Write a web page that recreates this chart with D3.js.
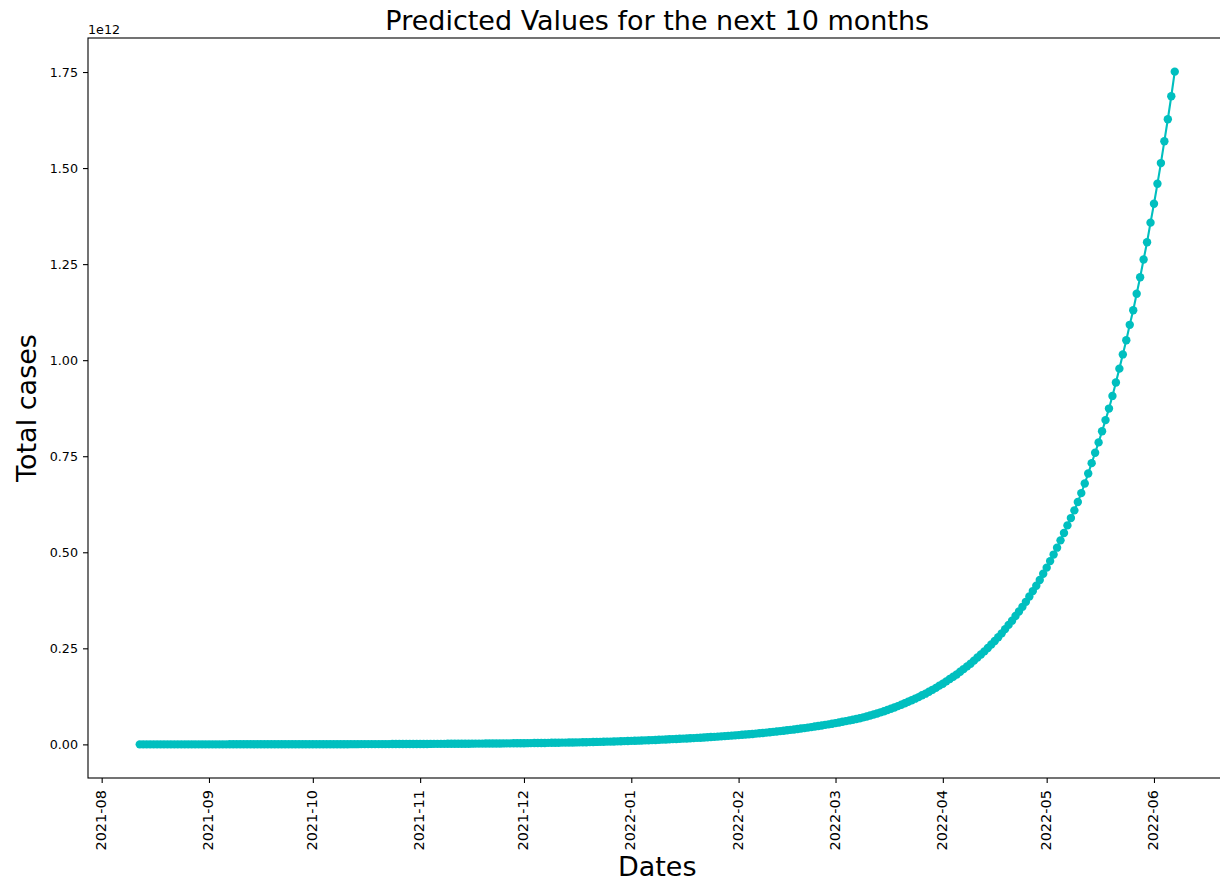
<!DOCTYPE html>
<html>
<head>
<meta charset="utf-8">
<script src="https://cdn.jsdelivr.net/npm/d3@7"></script>
<style>
  html, body { margin: 0; padding: 0; background: #fff; }
  svg { display: block; font-family: "DejaVu Sans", sans-serif; }
</style>
</head>
<body>
<svg id="chart" width="1220" height="880"></svg>
<script>
// ---- data (values in billions of cases), one point per day ----
const startDate = "2021-08-12";
const predictedBillions = [
  0.05,0.06,0.06,0.06,0.07,0.07,0.07,0.08,0.08,0.08,
  0.09,0.09,0.09,0.10,0.10,0.11,0.11,0.11,0.12,0.12,
  0.13,0.13,0.14,0.14,0.15,0.15,0.16,0.17,0.17,0.18,
  0.18,0.19,0.20,0.21,0.21,0.22,0.23,0.24,0.24,0.25,
  0.26,0.27,0.28,0.29,0.30,0.31,0.32,0.33,0.35,0.36,
  0.37,0.38,0.40,0.41,0.43,0.44,0.46,0.47,0.49,0.51,
  0.53,0.55,0.57,0.59,0.61,0.63,0.65,0.67,0.70,0.72,
  0.75,0.78,0.80,0.83,0.86,0.89,0.92,0.96,0.99,1.03,
  1.06,1.10,1.14,1.18,1.22,1.27,1.31,1.36,1.41,1.46,
  1.51,1.56,1.61,1.67,1.73,1.79,1.85,1.91,1.98,2.05,
  2.12,2.19,2.27,2.35,2.43,2.51,2.60,2.69,2.78,2.88,
  2.98,3.08,3.19,3.30,3.42,3.54,3.66,3.79,3.92,4.06,
  4.2,4.3,4.5,4.6,4.8,5.0,5.1,5.3,5.5,5.7,
  5.9,6.1,6.4,6.6,6.8,7.1,7.3,7.6,7.9,8.2,
  8.5,8.8,9.1,9.4,9.7,10.1,10.4,10.8,11.2,11.6,
  12.0,12.4,12.9,13.3,13.8,14.2,14.6,15.0,15.5,16.0,
  16.4,16.9,17.4,18.0,18.5,19.1,19.6,20.2,20.8,21.5,
  22.1,22.8,23.5,24.2,24.9,25.6,26.4,27.2,28.0,28.9,
  29.7,30.6,31.6,32.5,33.5,34.5,35.5,36.6,37.7,38.8,
  40.0,41.2,42.4,43.7,45.0,46.4,47.8,49.2,50.7,52.2,
  53.8,55.4,57.1,58.8,60.6,62.4,64.3,66.2,68.2,70.3,
  72.4,75.0,77.7,80.5,83.4,86.4,89.5,92.7,96.0,99.5,
  103,107,111,115,119,123,128,132,137,142,
  147,153,158,164,170,176,182,189,196,203,
  210,218,226,234,242,251,260,269,279,289,
  300,311,322,334,346,358,371,385,399,413,
  428,444,460,477,494,512,531,550,570,589,
  609,631,654,679,705,732,759,786,815,844,
  874,907,942,978,1015,1052,1092,1130,1173,1216,
  1262,1307,1358,1407,1459,1513,1570,1627,1687,1751
];
const yTickValues = [0, 0.25, 0.5, 0.75, 1.0, 1.25, 1.5, 1.75]; // in units of 1e12
const xTickMonths = ["2021-08","2021-09","2021-10","2021-11","2021-12","2022-01",
                     "2022-02","2022-03","2022-04","2022-05","2022-06"];
const titleText = "Predicted Values for the next 10 months";
const xLabel = "Dates";
const yLabel = "Total cases";
const offsetText = "1e12";

// ---- layout ----
const svg = d3.select("#chart");
const plotLeft = 88, plotTop = 38, plotBottom = 778, plotRight = 1226.5;
const color = "#00bfbf";

const parse = d3.timeParse("%Y-%m-%d");
const start = parse(startDate);
const data = predictedBillions.map((v, i) => ({ date: d3.timeDay.offset(start, i), value: v * 1e9 }));

// matplotlib-style 5% margins
const tExt = d3.extent(data, d => d.date);
const tSpan = tExt[1] - tExt[0];
const x = d3.scaleTime()
  .domain([new Date(+tExt[0] - 0.05 * tSpan), new Date(+tExt[1] + 0.05 * tSpan)])
  .range([plotLeft, plotRight]);
const vExt = d3.extent(data, d => d.value);
const vSpan = vExt[1] - vExt[0];
const y = d3.scaleLinear()
  .domain([vExt[0] - 0.05 * vSpan, vExt[1] + 0.05 * vSpan])
  .range([plotBottom, plotTop]);

// ---- series ----
const line = d3.line().x(d => x(d.date)).y(d => y(d.value));
svg.append("path").datum(data)
  .attr("d", line).attr("fill", "none")
  .attr("stroke", color).attr("stroke-width", 2.1).attr("stroke-linejoin", "round");
svg.append("g").selectAll("circle").data(data).join("circle")
  .attr("cx", d => x(d.date)).attr("cy", d => y(d.value))
  .attr("r", 4.2).attr("fill", color);

// ---- axes ----
const xAxis = d3.axisBottom(x)
  .tickValues(xTickMonths.map(m => d3.timeParse("%Y-%m")(m)))
  .tickFormat(d3.timeFormat("%Y-%m"))
  .tickSizeInner(5).tickSizeOuter(0).tickPadding(0);
const gx = svg.append("g").attr("transform", `translate(0,${plotBottom})`).call(xAxis);
gx.select(".domain").remove();
gx.selectAll(".tick line").attr("stroke", "#000").attr("stroke-width", 1.1);
gx.selectAll(".tick text")
  .attr("transform", "translate(0,12) rotate(-90)")
  .attr("x", 0).attr("y", 0).attr("dy", "0.24em")
  .attr("text-anchor", "end")
  .attr("font-size", "14.5px").attr("fill", "#000")
  .attr("font-family", "DejaVu Sans");

const yAxis = d3.axisLeft(y)
  .tickValues(yTickValues.map(v => v * 1e12))
  .tickFormat(v => (v / 1e12).toFixed(2))
  .tickSizeInner(5).tickSizeOuter(0).tickPadding(5);
const gy = svg.append("g").attr("transform", `translate(${plotLeft},0)`).call(yAxis);
gy.select(".domain").remove();
gy.selectAll(".tick line").attr("stroke", "#000").attr("stroke-width", 1.1);
gy.selectAll(".tick text").attr("font-size", "12.7px").attr("fill", "#000")
  .attr("font-family", "DejaVu Sans");

// frame (spines)
svg.append("rect")
  .attr("x", plotLeft).attr("y", plotTop)
  .attr("width", plotRight - plotLeft).attr("height", plotBottom - plotTop)
  .attr("fill", "none").attr("stroke", "#000").attr("stroke-width", 1.1);

// offset text
svg.append("text").attr("x", plotLeft).attr("y", 34)
  .attr("font-size", "12.7px").attr("fill", "#000").text(offsetText);

// title & labels
svg.append("text").attr("x", (plotLeft + plotRight) / 2).attr("y", 30)
  .attr("text-anchor", "middle").attr("font-size", "27px").attr("fill", "#000")
  .text(titleText);
svg.append("text").attr("x", (plotLeft + plotRight) / 2).attr("y", 876)
  .attr("text-anchor", "middle").attr("font-size", "27px").attr("fill", "#000")
  .text(xLabel);
svg.append("text")
  .attr("transform", `translate(36,${(plotTop + plotBottom) / 2}) rotate(-90)`)
  .attr("text-anchor", "middle").attr("font-size", "27px").attr("fill", "#000")
  .text(yLabel);
</script>
</body>
</html>
